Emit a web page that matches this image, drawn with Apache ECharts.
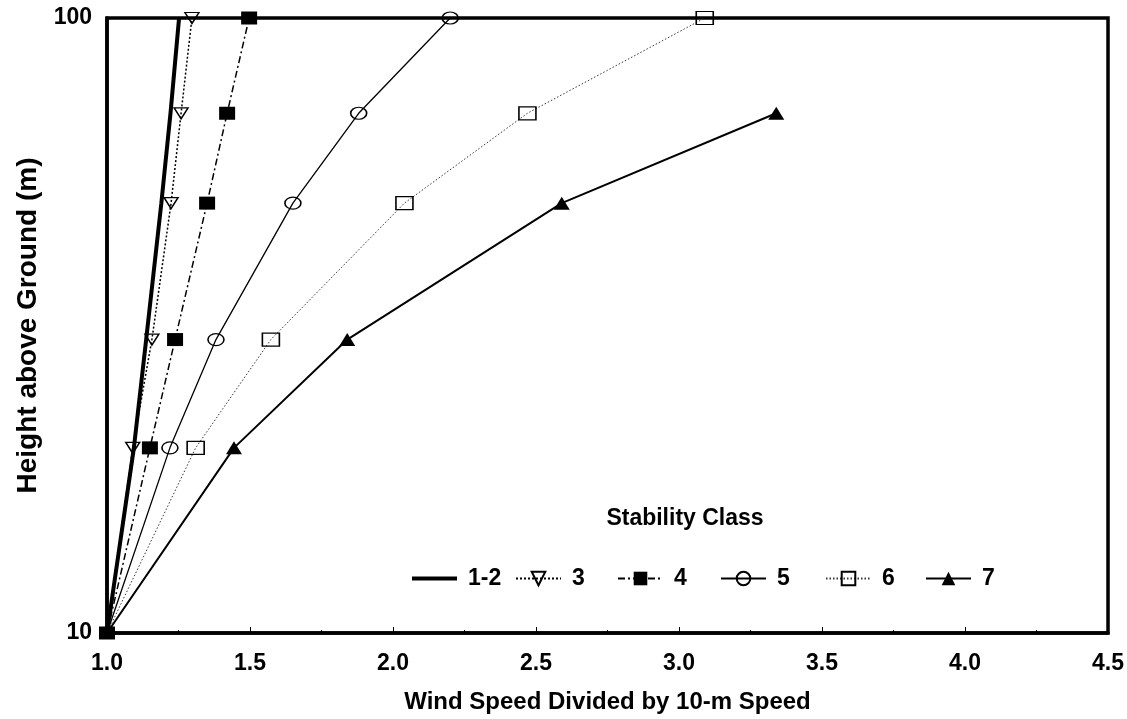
<!DOCTYPE html>
<html>
<head>
<meta charset="utf-8">
<script src="https://cdn.jsdelivr.net/npm/echarts@6/dist/echarts.min.js"></script>
<style>
  html, body { margin: 0; padding: 0; background: #fff; }
  #chart { width: 1127px; height: 719px; }
</style>
</head>
<body>
<div id="chart"></div>
<script>
// Heights above ground (m) at which the profiles are evaluated
const heights = [10, 20, 30, 50, 70, 100];
const heights7 = [10, 20, 30, 50, 70];

// Wind speed relative to the 10-m speed, per stability class
const class12 = [1.0, 1.094, 1.137, 1.19, 1.222, 1.252];
const class3 = [1.0, 1.09, 1.157, 1.224, 1.259, 1.297];
const class4 = [1.0, 1.15, 1.238, 1.35, 1.42, 1.497];
const class5 = [1.0, 1.22, 1.381, 1.65, 1.88, 2.20];
const class6 = [1.0, 1.31, 1.573, 2.04, 2.47, 3.09];
const class7 = [1.0, 1.444, 1.84, 2.59, 3.34];

const classNames = ['1-2', '3', '4', '5', '6', '7'];
const legendTitle = 'Stability Class';
const xTitle = 'Wind Speed Divided by 10-m Speed';
const yTitle = 'Height above Ground (m)';

const FONT = '"Liberation Sans", Arial, sans-serif';
const INK = '#000';

// Pair x values with heights; the shared origin point only shows the class-4 marker
function pairs(xs, hs, showOrigin) {
  return xs.map((x, i) => {
    const item = { value: [x, hs[i]] };
    if (i === 0 && !showOrigin) item.symbol = 'none';
    return item;
  });
}

const open = { color: 'rgba(255,255,255,0)', borderColor: INK, borderWidth: 1.4 };

const series = [
  {
    name: '1-2', data: pairs(class12, heights, false), symbol: 'none', showSymbol: false,
    lineStyle: { color: INK, width: 4 }, itemStyle: { color: INK }, z: 5
  },
  {
    name: '3', data: pairs(class3, heights, false), symbol: 'triangle', symbolRotate: 180,
    symbolSize: [14, 11], itemStyle: open,
    lineStyle: { color: INK, width: 1.5, type: [2, 2] }
  },
  {
    name: '4', data: pairs(class4, heights, true), symbol: 'rect', symbolSize: [16, 13],
    itemStyle: { color: INK },
    lineStyle: { color: INK, width: 1.5, type: [7, 3, 2, 3] }, z: 6
  },
  {
    name: '5', data: pairs(class5, heights, false), symbol: 'circle', symbolSize: [16, 12],
    itemStyle: open,
    lineStyle: { color: INK, width: 1.3 }
  },
  {
    name: '6', data: pairs(class6, heights, false), symbol: 'rect', symbolSize: [17, 13],
    itemStyle: open,
    lineStyle: { color: '#333', width: 1, type: [1.5, 2] }
  },
  {
    name: '7', data: pairs(class7, heights7, false), symbol: 'triangle', symbolSize: [16, 13],
    itemStyle: { color: INK },
    lineStyle: { color: INK, width: 2 }
  }
].map(s => Object.assign({ type: 'line', showSymbol: true, clip: false, animation: false }, s));

// One legend per class so each entry sits in its own slot
const legendLeft = [412, 515, 617, 720, 825, 925];
const legends = classNames.map((n, i) => {
  const lg = {
    data: [n],
    left: legendLeft[i],
    top: 567,
    padding: 0,
    itemWidth: 45,
    itemHeight: 17,
    selectedMode: false,
    textStyle: { fontFamily: FONT, fontWeight: 'bold', fontSize: 23, color: INK, padding: [0, 0, 0, 6] }
  };
  if (i === 0) {
    // plain heavy bar for the line-only class
    lg.data = [{ name: n, icon: 'rect' }];
    lg.itemHeight = 4;
  }
  return lg;
});

const chart = echarts.init(document.getElementById('chart'), null, { renderer: 'canvas' });
chart.setOption({
  backgroundColor: '#fff',
  animation: false,
  title: {
    text: legendTitle,
    left: 680, top: 502, textAlign: 'center',
    textStyle: { fontFamily: FONT, fontWeight: 'bold', fontSize: 23, color: INK }
  },
  legend: legends,
  grid: {
    left: 107, right: 18, top: 18, bottom: 86,
    show: true, borderColor: INK, borderWidth: 3.5, backgroundColor: 'transparent'
  },
  xAxis: {
    type: 'value', min: 1, max: 4.5, interval: 0.5,
    name: xTitle, nameLocation: 'middle', nameGap: 57,
    nameTextStyle: { fontFamily: FONT, fontWeight: 'bold', fontSize: 24, color: INK },
    axisLine: { lineStyle: { color: INK, width: 3.5 } },
    axisTick: { show: true, inside: true, length: 6, lineStyle: { color: INK, width: 1 } },
    minorTick: { show: true, splitNumber: 2, length: 3, lineStyle: { color: INK, width: 1 } },
    splitLine: { show: false },
    axisLabel: {
      margin: 19, fontFamily: FONT, fontWeight: 'bold', fontSize: 23, color: INK,
      formatter: v => v.toFixed(1)
    }
  },
  yAxis: {
    type: 'log', logBase: 10, min: 10, max: 100,
    name: yTitle, nameLocation: 'middle', nameGap: 60, nameRotate: 90,
    nameTextStyle: { fontFamily: FONT, fontWeight: 'bold', fontSize: 28, color: INK },
    axisLine: { show: true, lineStyle: { color: INK, width: 3.5 } },
    axisTick: { show: false },
    splitLine: { show: false },
    axisLabel: { margin: 15, fontFamily: FONT, fontWeight: 'bold', fontSize: 23, color: INK }
  },
  series: series
});
</script>
</body>
</html>
